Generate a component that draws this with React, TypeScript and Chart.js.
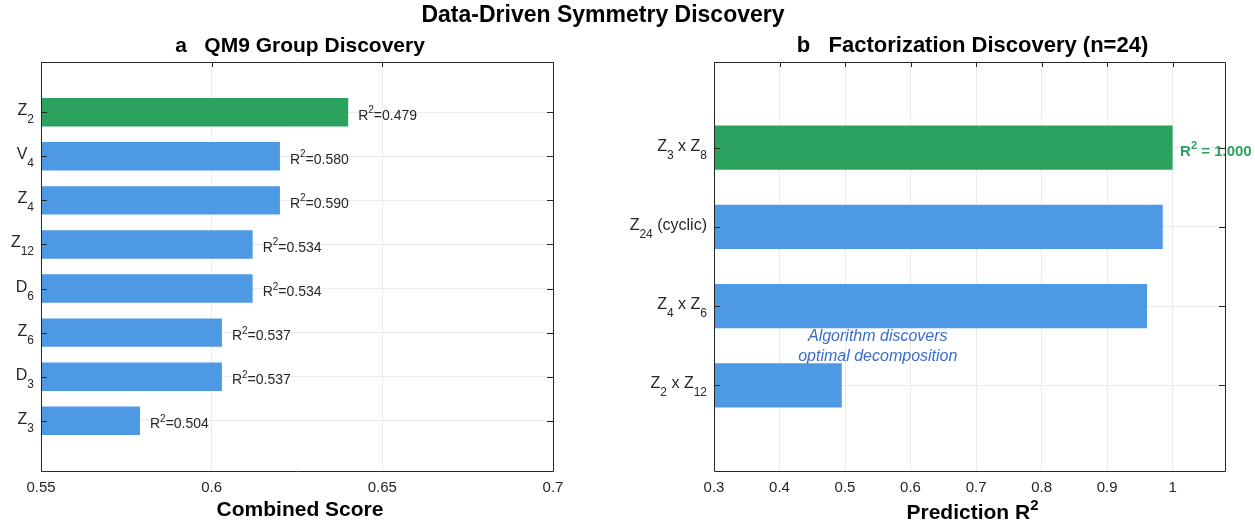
import React, { useEffect, useRef } from "react";
import { Chart, registerables } from "chart.js";

Chart.register(...registerables);

// ---------- data ----------
const GROUPS = ["Z_2", "V_4", "Z_4", "Z_12", "D_6", "Z_6", "D_3", "Z_3"];
const COMBINED_SCORE = [0.64, 0.62, 0.62, 0.612, 0.612, 0.603, 0.603, 0.579];
const GROUP_R2 = [0.479, 0.58, 0.59, 0.534, 0.534, 0.537, 0.537, 0.504];
const SCORE_TICKS = [0.55, 0.6, 0.65, 0.7];

const FACTORIZATIONS = ["Z_3 x Z_8", "Z_24 (cyclic)", "Z_4 x Z_6", "Z_2 x Z_12"];
const PREDICTION_R2 = [1.0, 0.985, 0.961, 0.495];
const R2_TICKS = [0.3, 0.4, 0.5, 0.6, 0.7, 0.8, 0.9, 1.0];

const MAIN_TITLE = "Data-Driven Symmetry Discovery";
const TITLE_A = "a   QM9 Group Discovery";
const TITLE_B = "b   Factorization Discovery (n=24)";
const XLABEL_A = "Combined Score";
const XLABEL_B = "Prediction R^2";
const NOTE_LINES = ["Algorithm discovers", "optimal decomposition"];
const NOTE_AT = { x: 0.55, y: 3.5 };
const BEST_INDEX = 0;

// ---------- styles ----------
const FONT = '"Liberation Sans", Arial, Helvetica, sans-serif';
const INK = "#262626";
const GRID = "#ebebeb";
const GREEN = "#2ca25f";
const BLUE = "#4d99e3";
const NOTE_COLOR = "#3b6cc9";

// Draws text where "_12" is a subscript and "^2" a superscript.
function drawRich(
  ctx: CanvasRenderingContext2D,
  text: string,
  x: number,
  baseline: number,
  align: "left" | "right" | "center",
  size: number,
  opts: { bold?: boolean; color: string; small?: number; subDy?: number; supDy?: number }
) {
  const parts: { t: string; k: 0 | 1 | 2 }[] = [];
  const re = /([_^])(\d+)/g;
  let last = 0;
  let m: RegExpExecArray | null;
  while ((m = re.exec(text))) {
    if (m.index > last) parts.push({ t: text.slice(last, m.index), k: 0 });
    parts.push({ t: m[2], k: m[1] === "_" ? 1 : 2 });
    last = re.lastIndex;
  }
  if (last < text.length) parts.push({ t: text.slice(last), k: 0 });
  const w = opts.bold ? "bold " : "";
  const small = opts.small ?? size * 0.72;
  const fontOf = (k: number) => `${w}${k === 0 ? size : small}px ${FONT}`;
  let total = 0;
  const widths = parts.map((p) => {
    ctx.font = fontOf(p.k);
    const ww = ctx.measureText(p.t).width;
    total += ww;
    return ww;
  });
  let cx = align === "left" ? x : align === "right" ? x - total : x - total / 2;
  ctx.fillStyle = opts.color;
  ctx.textAlign = "left";
  ctx.textBaseline = "alphabetic";
  parts.forEach((p, i) => {
    ctx.font = fontOf(p.k);
    const dy = p.k === 1 ? opts.subDy ?? size * 0.5 : p.k === 2 ? opts.supDy ?? -size * 0.48 : 0;
    ctx.fillText(p.t, cx, baseline + dy);
    cx += widths[i];
  });
}

function drawFrame(chart: any, n: number, xTicks: number[]) {
  const ctx: CanvasRenderingContext2D = chart.ctx;
  const { left, right, top, bottom } = chart.chartArea;
  const xs = chart.scales.x;
  const ys = chart.scales.y;
  ctx.save();
  ctx.strokeStyle = INK;
  ctx.lineWidth = 1;
  ctx.beginPath();
  ctx.rect(Math.round(left) + 0.5, Math.round(top) + 0.5, Math.round(right - left), Math.round(bottom - top));
  ctx.stroke();
  ctx.beginPath();
  xTicks.forEach((v) => {
    const px = Math.round(xs.getPixelForValue(v)) + 0.5;
    ctx.moveTo(px, top);
    ctx.lineTo(px, top + 5);
  });
  for (let i = 1; i <= n; i++) {
    const py = Math.round(ys.getPixelForValue(i)) + 0.5;
    ctx.moveTo(left, py);
    ctx.lineTo(left + 6, py);
    ctx.moveTo(right, py);
    ctx.lineTo(right - 6, py);
  }
  ctx.stroke();
  ctx.restore();
}

function makeConfig(p: {
  labels: string[];
  values: number[];
  xMin: number;
  xMax: number;
  xTicks: number[];
  yPad: number;
  barPct: number;
  padLeft: number;
  padRight: number;
  yAxisWidth: number;
  title: string;
  titleSize: number;
  xlabel: string;
  xlabelBaseline: number;
  afterDatasets?: (chart: any) => void;
  extra?: (chart: any) => void;
}): any {
  const n = p.labels.length;
  const plugin = {
    id: "panelDecor",
    afterDatasetsDraw(chart: any) {
      if (p.afterDatasets) p.afterDatasets(chart);
    },
    afterDraw(chart: any) {
      const ctx: CanvasRenderingContext2D = chart.ctx;
      const { left, right } = chart.chartArea;
      const ys = chart.scales.y;
      drawFrame(chart, n, p.xTicks);
      ctx.save();
      p.labels.forEach((lab, i) => {
        drawRich(ctx, lab, left - 7, ys.getPixelForValue(i + 1) + 3, "right", 16, {
          color: INK,
          small: 12,
          subDy: 8,
        });
      });
      const cx = (left + right) / 2 + 3;
      ctx.fillStyle = "#000";
      ctx.textAlign = "center";
      ctx.textBaseline = "alphabetic";
      ctx.font = `bold ${p.titleSize}px ${FONT}`;
      ctx.fillText(p.title, cx, 52);
      drawRich(ctx, p.xlabel, cx, p.xlabelBaseline, "center", 21, {
        bold: true,
        color: "#000",
        small: 15,
        supDy: -9,
      });
      if (p.extra) p.extra(chart);
      ctx.restore();
    },
  };
  return {
    type: "bar",
    data: {
      datasets: [
        {
          data: p.values.map((v, i) => ({ x: v, y: i + 1 })),
          backgroundColor: p.values.map((_, i) => (i === BEST_INDEX ? GREEN : BLUE)),
          borderWidth: 0,
          barPercentage: p.barPct,
          categoryPercentage: 1,
        },
      ],
    },
    options: {
      animation: false,
      responsive: false,
      devicePixelRatio: 1,
      indexAxis: "y",
      layout: { padding: { left: p.padLeft, right: p.padRight, top: 62, bottom: 0 } },
      plugins: {
        legend: { display: false },
        tooltip: { enabled: false },
        title: { display: false },
      },
      scales: {
        x: {
          type: "linear",
          position: "bottom",
          min: p.xMin,
          max: p.xMax,
          offset: false,
          afterBuildTicks: (s: any) => {
            s.ticks = p.xTicks.map((v) => ({ value: v }));
          },
          afterFit: (s: any) => {
            s.height = 51;
          },
          grid: { color: GRID, lineWidth: 1, drawTicks: false, offset: false },
          border: { display: false },
          ticks: {
            font: { family: FONT, size: 15 },
            color: INK,
            padding: 8,
            maxRotation: 0,
            callback: (v: any) => String(+(+v).toFixed(4)),
          },
        },
        y: {
          type: "linear",
          reverse: true,
          min: 1 - p.yPad,
          max: n + p.yPad,
          offset: false,
          afterBuildTicks: (s: any) => {
            s.ticks = p.labels.map((_, i) => ({ value: i + 1 }));
          },
          afterFit: (s: any) => {
            s.width = p.yAxisWidth;
          },
          grid: { color: GRID, lineWidth: 1, drawTicks: false, offset: false },
          border: { display: false },
          ticks: { display: false },
        },
      },
    },
    plugins: [plugin],
  };
}

function leftConfig() {
  return makeConfig({
    labels: GROUPS,
    values: COMBINED_SCORE,
    xMin: 0.55,
    xMax: 0.7,
    xTicks: SCORE_TICKS,
    yPad: 1.14,
    barPct: 0.645,
    padLeft: 0,
    padRight: 1255 - 553,
    yAxisWidth: 41,
    title: TITLE_A,
    titleSize: 21,
    xlabel: XLABEL_A,
    xlabelBaseline: 515.5,
    extra: (chart: any) => {
      const ctx: CanvasRenderingContext2D = chart.ctx;
      const xs = chart.scales.x;
      const ys = chart.scales.y;
      COMBINED_SCORE.forEach((v, i) => {
        drawRich(ctx, `R^2=${GROUP_R2[i].toFixed(3)}`, xs.getPixelForValue(v) + 10, ys.getPixelForValue(i + 1) + 7.5, "left", 14, {
          color: INK,
          small: 10,
          supDy: -6.5,
        });
      });
      // main title
      ctx.fillStyle = "#000";
      ctx.textAlign = "center";
      ctx.textBaseline = "alphabetic";
      ctx.font = `bold 23px ${FONT}`;
      ctx.fillText(MAIN_TITLE, 603, 21.5);
    },
  });
}

function rightConfig() {
  return makeConfig({
    labels: FACTORIZATIONS,
    values: PREDICTION_R2,
    xMin: 0.3,
    xMax: 1.08,
    xTicks: R2_TICKS,
    yPad: 1.08,
    barPct: 0.556,
    padLeft: 627,
    padRight: 1255 - 1225,
    yAxisWidth: 87,
    title: TITLE_B,
    titleSize: 22,
    xlabel: XLABEL_B,
    xlabelBaseline: 518.5,
    afterDatasets: (chart: any) => {
      const ctx: CanvasRenderingContext2D = chart.ctx;
      const xs = chart.scales.x;
      const ys = chart.scales.y;
      ctx.save();
      const v = PREDICTION_R2[BEST_INDEX];
      drawRich(ctx, `R^2 = ${v.toFixed(3)}`, xs.getPixelForValue(v) + 7.5, ys.getPixelForValue(BEST_INDEX + 1) + 8.5, "left", 15, {
        bold: true,
        color: GREEN,
        small: 11,
        supDy: -7,
      });
      ctx.restore();
    },
    extra: (chart: any) => {
      const ctx: CanvasRenderingContext2D = chart.ctx;
      const xs = chart.scales.x;
      const ys = chart.scales.y;
      ctx.fillStyle = NOTE_COLOR;
      ctx.font = `italic 16px ${FONT}`;
      ctx.textAlign = "center";
      ctx.textBaseline = "alphabetic";
      const nx = xs.getPixelForValue(NOTE_AT.x);
      const ny = ys.getPixelForValue(NOTE_AT.y);
      ctx.fillText(NOTE_LINES[0], nx, ny - 4.5);
      ctx.fillText(NOTE_LINES[1], nx, ny + 15.5);
    },
  });
}

export default function App() {
  const leftRef = useRef<HTMLCanvasElement>(null);
  const rightRef = useRef<HTMLCanvasElement>(null);
  useEffect(() => {
    const a = new Chart(leftRef.current as HTMLCanvasElement, leftConfig());
    const b = new Chart(rightRef.current as HTMLCanvasElement, rightConfig());
    return () => {
      a.destroy();
      b.destroy();
    };
  }, []);
  const cs: React.CSSProperties = { position: "absolute", left: 0, top: 0, width: 1255, height: 522 };
  return (
    <div style={{ position: "absolute", left: 0, top: 0, width: 1255, height: 522, background: "#fff" }}>
      <canvas ref={leftRef} width={1255} height={522} style={cs} />
      <canvas ref={rightRef} width={1255} height={522} style={cs} />
    </div>
  );
}
